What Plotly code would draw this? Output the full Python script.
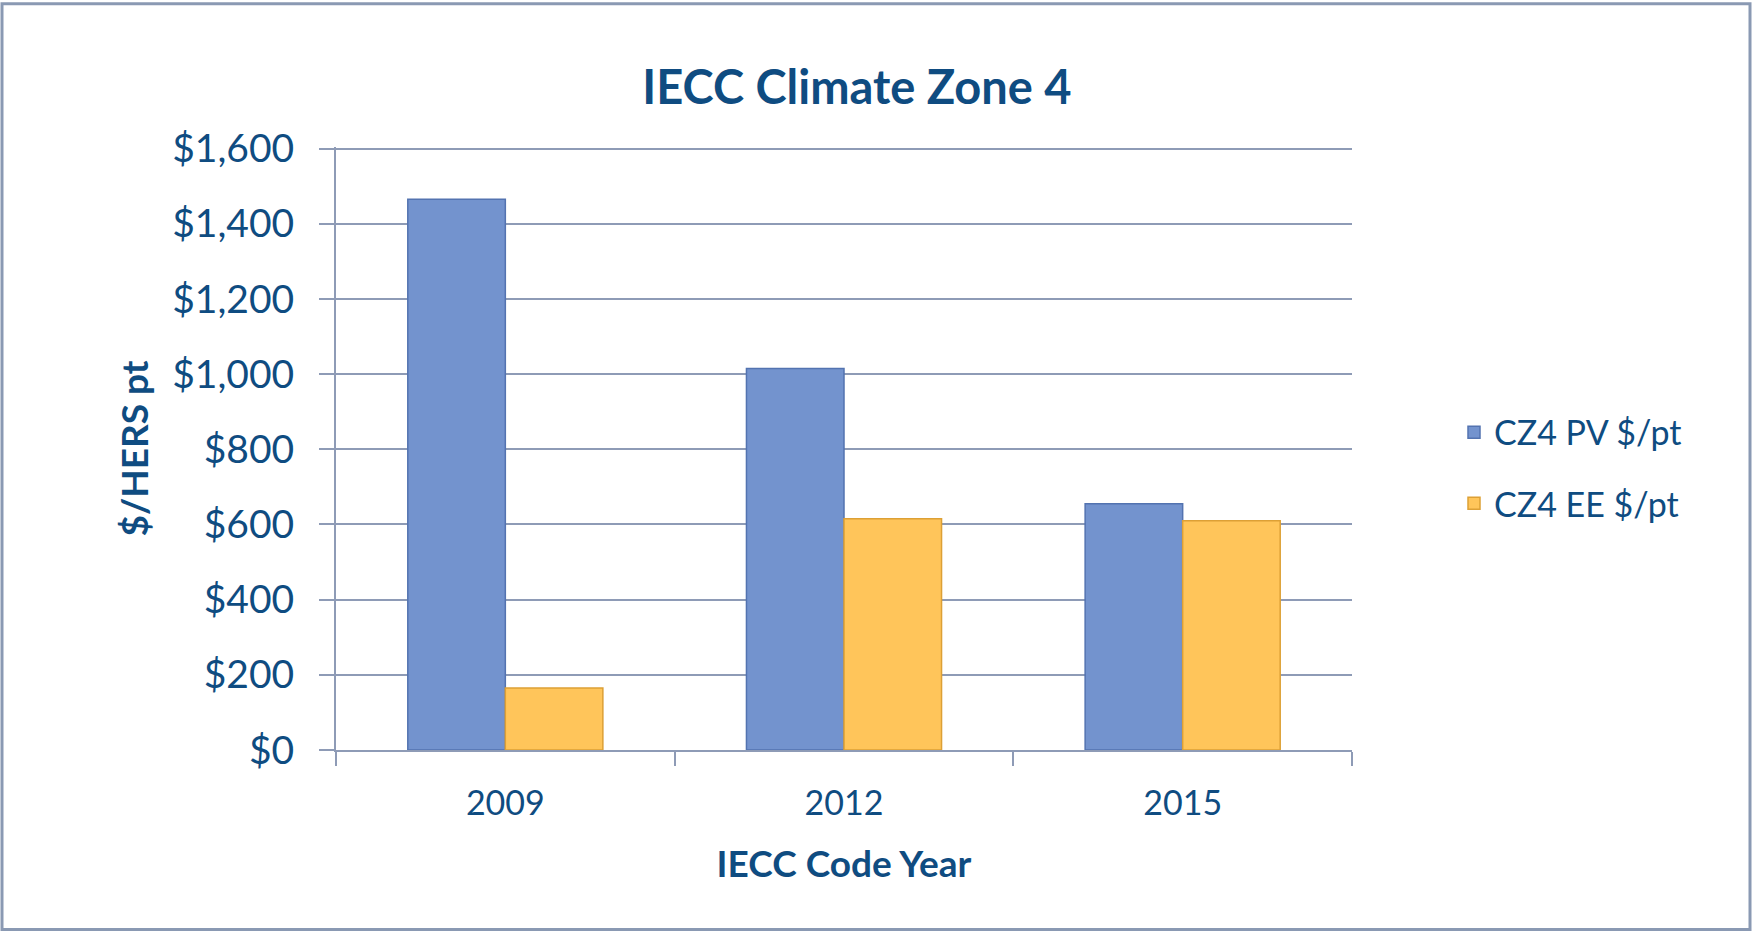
import plotly.graph_objects as go

categories = ["2009", "2012", "2015"]
pv_values = [1465, 1015, 655]
ee_values = [165, 615, 610]
series_names = ["CZ4 PV $/pt", "CZ4 EE $/pt"]
y_tickvals = [0, 200, 400, 600, 800, 1000, 1200, 1400, 1600]
y_ticktext = ["$0", "$200", "$400", "$600", "$800", "$1,000", "$1,200", "$1,400", "$1,600"]

TEXT = "#0F4C81"
GRID = "#8E9BB6"
FONT = "Lato"

W, H = 1752, 932
Y_MAX = 1604
L, R, B = 336, 1352, 749.7
T = B - (B - 148.7) * Y_MAX / 1600

fig = go.Figure()
fig.add_trace(go.Bar(
    x=categories, y=pv_values, name=series_names[0], legendgroup="pv",
    marker=dict(color="#7393CE", line=dict(color="#5373B0", width=1.5)),
))
fig.add_trace(go.Bar(
    x=categories, y=ee_values, name=series_names[1], legendgroup="ee",
    marker=dict(color="#FFC55A", line=dict(color="#DDA035", width=1.5)),
))

pw, ph = R - L, B - T
fig.add_shape(type="rect", xref="paper", yref="paper",
              x0=(2 - L) / pw, x1=(1750 - L) / pw,
              y0=(B - 929) / ph, y1=(B - 4) / ph,
              line=dict(color="#8A99B3", width=3), fillcolor="rgba(0,0,0,0)", layer="below")

fig.update_layout(
    width=W, height=H,
    margin=dict(l=L, r=W - R, t=T, b=H - B, autoexpand=False),
    paper_bgcolor="white", plot_bgcolor="white",
    font=dict(family=FONT, color=TEXT, size=36),
    title=dict(text="<b>IECC Climate Zone 4</b>", x=857 / W, xanchor="center",
               y=1 - 88 / H, yanchor="middle", font=dict(size=47, color=TEXT, family=FONT)),
    barmode="group", bargap=0.424, bargroupgap=0,
    showlegend=True,
    legend=dict(x=(1454 - L) / pw, xanchor="left", y=(B - 468) / ph, yanchor="middle",
                font=dict(size=34, color=TEXT, family=FONT), traceorder="grouped",
                tracegroupgap=24, bgcolor="rgba(0,0,0,0)"),
    xaxis=dict(
        type="category", showline=True, linecolor=GRID, linewidth=2,
        ticks="outside", tickson="boundaries", ticklen=14, tickcolor=GRID, tickwidth=2,
        tickfont=dict(size=34, color=TEXT), showgrid=False, ticklabelstandoff=22,
        title=dict(text="<b>IECC Code Year</b>", font=dict(size=37, color=TEXT), standoff=30),
    ),
    yaxis=dict(
        range=[0, Y_MAX], tickvals=y_tickvals, ticktext=y_ticktext,
        showline=True, linecolor=GRID, linewidth=2,
        ticks="outside", ticklen=15, tickcolor=GRID, tickwidth=2,
        showgrid=True, gridcolor=GRID, gridwidth=2, zeroline=False,
        tickfont=dict(size=39, color=TEXT), ticklabelstandoff=17,
        title=dict(text="<b>$/HERS pt</b>", font=dict(size=37, color=TEXT), standoff=12),
    ),
)

fig.write_html("out.html")
